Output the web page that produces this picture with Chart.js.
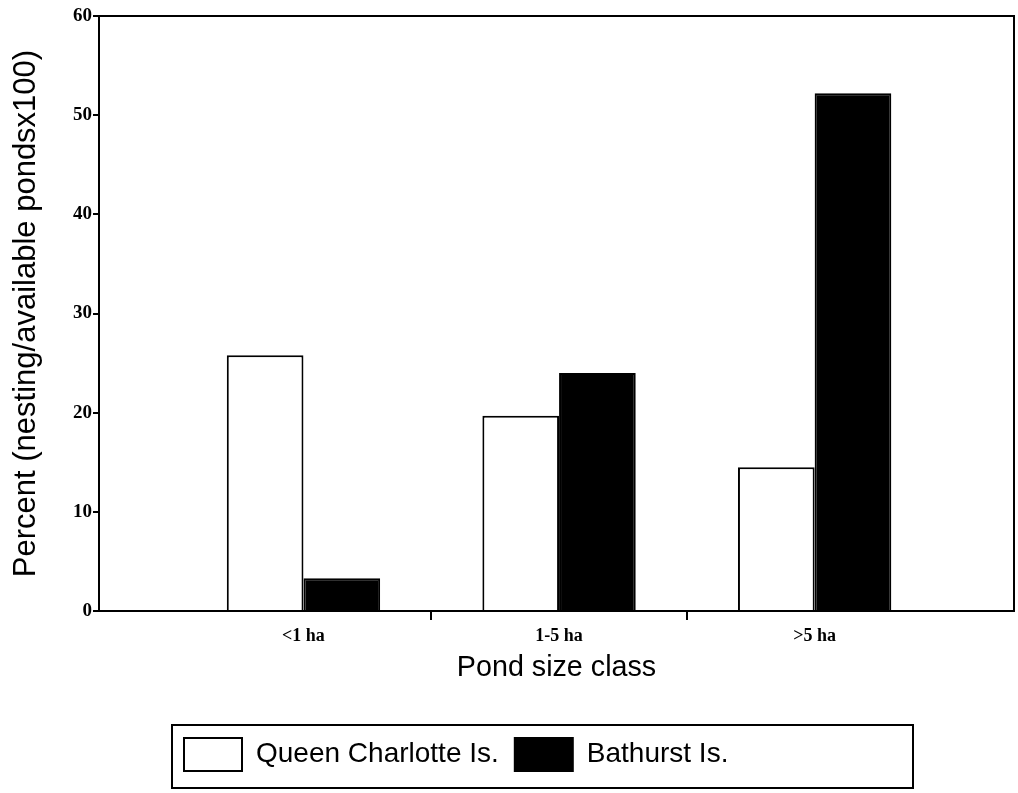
<!DOCTYPE html>
<html>
<head>
<meta charset="utf-8">
<script src="https://cdn.jsdelivr.net/npm/chart.js@4/dist/chart.umd.min.js"></script>
<style>
  html, body { margin: 0; padding: 0; background: #fff; }
  canvas { display: block; }
</style>
</head>
<body>
<canvas id="c" width="1018" height="793"></canvas>
<script>
// ---- data ----
const categories = ['<1 ha', '1-5 ha', '>5 ha'];
const queenCharlotte = [25.8, 19.7, 14.5];
const bathurst = [3.3, 24.0, 52.2];
const seriesNames = ['Queen Charlotte Is.', 'Bathurst Is.'];
const yTickValues = [0, 10, 20, 30, 40, 50, 60];
const xTickValues = [1, 1.5, 2, 2.5, 3];

const toPoints = arr => arr.map((v, i) => ({ x: i + 1, y: v }));

const framePlugin = {
  id: 'frame',
  afterLayout(chart) {
    const lg = chart.legend;
    if (lg) { const w = lg.right - lg.left; lg.left = 168; lg.right = 168 + w; }
  },
  afterDraw(chart) {
    const { ctx, chartArea: a } = chart;
    ctx.save();
    ctx.strokeStyle = '#000';
    ctx.lineWidth = 2;
    ctx.beginPath();
    ctx.moveTo(a.left, a.top);
    ctx.lineTo(a.right, a.top);
    ctx.lineTo(a.right, a.bottom);
    ctx.stroke();
    // legend frame
    const hb = chart.legend && chart.legend.legendHitBoxes;
    if (hb && hb.length) {
      const first = hb[0];
      const left = first.left - 12;
      const top = first.top - 13;
      const bottom = first.top + 33 + 17;
      const right = left + 741;
      ctx.strokeRect(left, top, right - left, bottom - top);
    }
    ctx.restore();
  }
};

new Chart(document.getElementById('c'), {
  type: 'bar',
  data: {
    datasets: [
      {
        label: seriesNames[0],
        data: toPoints(queenCharlotte),
        backgroundColor: '#ffffff',
        borderColor: '#000000',
        borderWidth: 2
      },
      {
        label: seriesNames[1],
        data: toPoints(bathurst),
        backgroundColor: '#000000',
        borderColor: '#000000',
        borderWidth: 2
      }
    ]
  },
  options: {
    responsive: false,
    animation: false,
    devicePixelRatio: 1,
    categoryPercentage: 1.2,
    barPercentage: 1.0,
    layout: { padding: { left: 0, right: 4, top: 16, bottom: 12 } },
    plugins: {
      tooltip: { enabled: false },
      legend: {
        position: 'bottom',
        align: 'start',
        labels: {
          color: '#000',
          boxWidth: 58,
          boxHeight: 33,
          padding: 16,
          font: { family: '"Liberation Sans", Arial, sans-serif', size: 28 }
        }
      }
    },
    scales: {
      x: {
        type: 'linear',
        min: 0.2,
        max: 3.78,
        offset: false,
        afterFit: s => { s.height = 111; },
        afterBuildTicks: s => { s.ticks = xTickValues.map(v => ({ value: v })); },
        border: { display: true, color: '#000', width: 2 },
        grid: {
          offset: false,
          drawOnChartArea: false,
          drawTicks: true,
          tickLength: 9,
          lineWidth: 2,
          tickColor: ctx => (ctx.tick && Number.isInteger(ctx.tick.value)) ? 'rgba(0,0,0,0)' : '#000'
        },
        ticks: {
          autoSkip: false,
          maxRotation: 0,
          minRotation: 0,
          padding: 6,
          color: '#000',
          font: { family: '"Liberation Serif", "Times New Roman", serif', size: 18, weight: 'bold' },
          callback: v => Number.isInteger(v) ? categories[v - 1] : ''
        },
        title: {
          display: true,
          text: 'Pond size class',
          color: '#000',
          font: { family: '"Liberation Sans", Arial, sans-serif', size: 28.7 },
          padding: { top: 0, bottom: 37 }
        }
      },
      y: {
        min: 0,
        max: 60,
        afterFit: s => { s.width = 99; },
        afterBuildTicks: s => { s.ticks = yTickValues.map(v => ({ value: v })); },
        border: { display: true, color: '#000', width: 2 },
        grid: {
          drawOnChartArea: false,
          drawTicks: true,
          tickLength: 6,
          lineWidth: 2,
          tickColor: '#000'
        },
        ticks: {
          padding: 1,
          color: '#000',
          font: { family: '"Liberation Serif", "Times New Roman", serif', size: 19, weight: 'bold' }
        },
        title: {
          display: true,
          text: 'Percent (nesting/available pondsx100)',
          color: '#000',
          font: { family: '"Liberation Sans", Arial, sans-serif', size: 31 },
          padding: { top: 8, bottom: 0 }
        }
      }
    }
  },
  plugins: [framePlugin]
});
</script>
</body>
</html>
